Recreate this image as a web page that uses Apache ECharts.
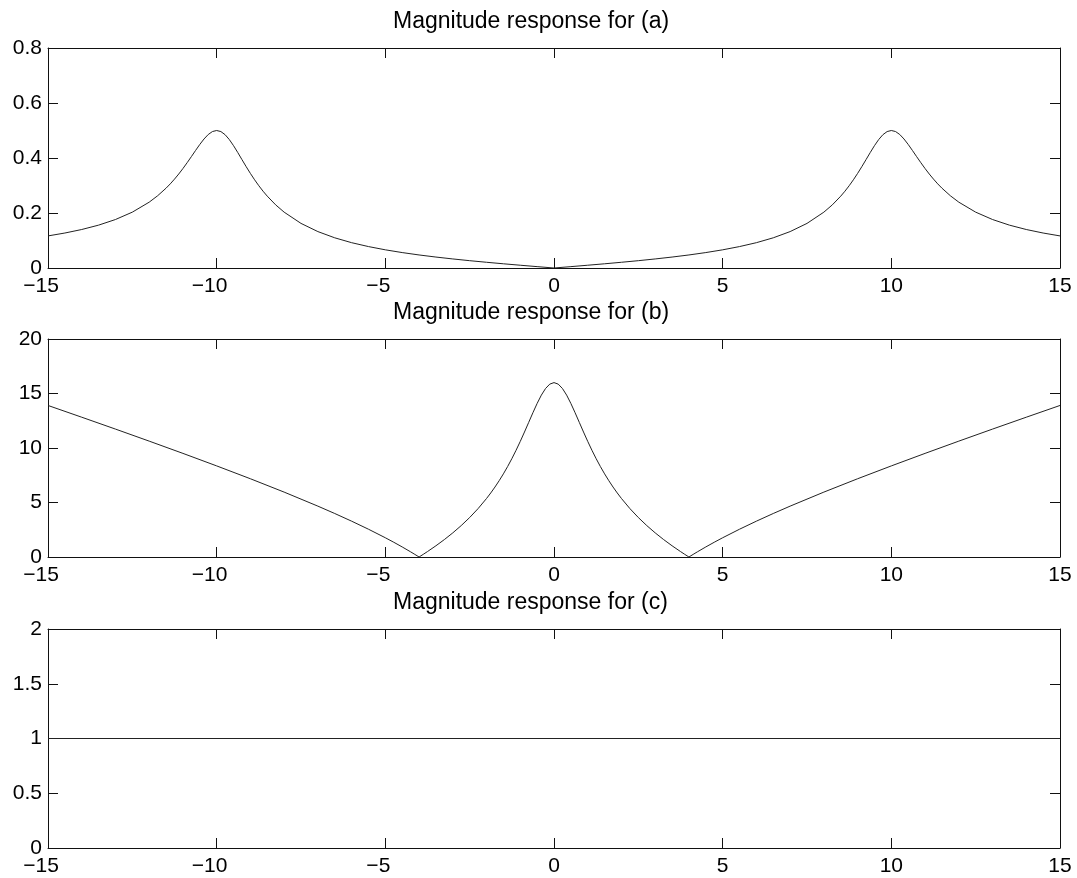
<!DOCTYPE html>
<html>
<head>
<meta charset="utf-8">
<script src="https://cdn.jsdelivr.net/npm/echarts@6/dist/echarts.min.js"></script>
<style>
html,body{margin:0;padding:0;background:#fff;}
#c{width:1077px;height:878px;}
</style>
</head>
<body>
<div id="c"></div>
<script>
// ---- data ----
const titles = ['Magnitude response for (a)', 'Magnitude response for (b)', 'Magnitude response for (c)'];
const xTicks = [-15, -10, -5, 0, 5, 10, 15];

const freqA = [-15,-14.5,-14,-13.5,-13,-12.5,-12,-11.75,-11.5,-11.375,-11.25,-11.125,-11,-10.875,-10.75,-10.625,-10.5,-10.375,-10.25,-10.125,-10,
  -9.875,-9.75,-9.625,-9.5,-9.375,-9.25,-9.125,-9,-8.875,-8.75,-8.625,-8.5,-8.25,-8,-7.5,-7,-6.5,-6,-5.5,-5,-4.5,-4,-3.5,-3,-2.5,-2,-1.5,-1,-0.5,
  0,0.5,1,1.5,2,2.5,3,3.5,4,4.5,5,5.5,6,6.5,7,7.5,8,8.25,8.5,8.625,8.75,8.875,9,9.125,9.25,9.375,9.5,9.625,9.75,9.875,
  10,10.125,10.25,10.375,10.5,10.625,10.75,10.875,11,11.125,11.25,11.375,11.5,11.75,12,12.5,13,13.5,14,14.5,15];
const magA = [0.1167,0.1272,0.1400,0.1559,0.1763,0.2031,0.2394,0.2627,0.2903,0.3060,0.3232,0.3417,0.3617,0.3829,0.4050,0.4275,0.4493,0.4692,0.4854,0.4962,0.5000,
  0.4961,0.4848,0.4670,0.4448,0.4200,0.3941,0.3685,0.3439,0.3207,0.2991,0.2793,0.2612,0.2295,0.2031,0.1622,0.1324,0.1098,0.0921,0.0779,0.0661,0.0561,0.0474,0.0398,0.0329,0.0266,0.0208,0.0153,0.0101,0.0050,
  0,0.0050,0.0101,0.0153,0.0208,0.0266,0.0329,0.0398,0.0474,0.0561,0.0661,0.0779,0.0921,0.1098,0.1324,0.1622,0.2031,0.2295,0.2612,0.2793,0.2991,0.3207,0.3439,0.3685,0.3941,0.4200,0.4448,0.4670,0.4848,0.4961,
  0.5000,0.4962,0.4854,0.4692,0.4493,0.4275,0.4050,0.3829,0.3617,0.3417,0.3232,0.3060,0.2903,0.2627,0.2394,0.2031,0.1763,0.1559,0.1400,0.1272,0.1167];

const freqB = [-15,-14,-13,-12,-11,-10,-9,-8,-7,-6.5,-6,-5.5,-5,-4.75,-4.5,-4.25,-4.125,-4,-3.875,-3.75,-3.5,-3.25,-3,-2.75,-2.5,-2.25,-2,
  -1.875,-1.75,-1.625,-1.5,-1.375,-1.25,-1.125,-1,-0.875,-0.75,-0.625,-0.5,-0.375,-0.25,-0.125,
  0,0.125,0.25,0.375,0.5,0.625,0.75,0.875,1,1.125,1.25,1.375,1.5,1.625,1.75,1.875,2,2.25,2.5,2.75,3,3.25,3.5,3.75,3.875,
  4,4.125,4.25,4.5,4.75,5,5.5,6,6.5,7,8,9,10,11,12,13,14,15];
const magB = [13.903,12.824,11.735,10.630,9.506,8.358,7.178,5.954,4.667,3.992,3.288,2.549,1.765,1.352,0.922,0.472,0.239,0,0.246,0.499,1.030,1.599,2.214,2.883,3.621,4.442,5.367,
  5.875,6.419,7.002,7.627,8.299,9.019,9.789,10.607,11.465,12.350,13.237,14.087,14.850,15.461,15.861,
  16,15.861,15.461,14.850,14.087,13.237,12.350,11.465,10.607,9.789,9.019,8.299,7.627,7.002,6.419,5.875,5.367,4.442,3.621,2.883,2.214,1.599,1.030,0.499,0.246,
  0,0.239,0.472,0.922,1.352,1.765,2.549,3.288,3.992,4.667,5.954,7.178,8.358,9.506,10.630,11.735,12.824,13.903];

const freqC = [-15, 15];
const magC = [1, 1];

const yMax = [0.8, 20, 2];
const yStep = [0.2, 5, 0.5];

// ---- layout ----
const gridTops = [48, 339, 629];
const gridH = [220, 218, 219];
const titleTops = [10, 301, 591];
const font = 'Liberation Sans, Arial, sans-serif';
const axisColor = '#111';

const pairs = (xs, ys) => xs.map((x, i) => [x, ys[i]]);
const seriesData = [pairs(freqA, magA), pairs(freqB, magB), pairs(freqC, magC)];

const grids = [], xAxes = [], yAxes = [], series = [], titleArr = [];
for (let k = 0; k < 3; k++) {
  grids.push({left: 48, right: 17, top: gridTops[k], height: gridH[k], containLabel: false});
  titleArr.push({text: titles[k], left: 393, top: titleTops[k], padding: 0,
    textStyle: {fontFamily: font, fontSize: 23, fontWeight: 'normal', color: '#000'}});
  const xCommon = {type: 'value', gridIndex: k, min: xTicks[0], max: xTicks[xTicks.length - 1], interval: 5,
    splitLine: {show: false},
    axisLine: {show: true, onZero: false, lineStyle: {color: axisColor, width: 1}},
    axisTick: {show: true, inside: true, length: 10, lineStyle: {color: axisColor, width: 1}}};
  xAxes.push(Object.assign({}, xCommon, {position: 'bottom',
    axisLabel: {show: true, margin: 8, fontFamily: font, fontSize: 21, color: '#000',
      showMinLabel: true, showMaxLabel: true,
      formatter: v => v < 0 ? '{n|\u2212' + Math.abs(v) + '}' : String(v),
      rich: {n: {fontFamily: font, fontSize: 21, color: '#000', padding: [0, 14, 0, 0]}}}}));
  xAxes.push(Object.assign({}, xCommon, {position: 'top', axisLabel: {show: false}}));
  const yCommon = {type: 'value', gridIndex: k, min: 0, max: yMax[k], interval: yStep[k],
    splitLine: {show: false},
    axisLine: {show: true, onZero: false, lineStyle: {color: axisColor, width: 1}},
    axisTick: {show: true, inside: true, length: 10, lineStyle: {color: axisColor, width: 1}}};
  yAxes.push(Object.assign({}, yCommon, {position: 'left',
    axisLabel: {show: true, margin: 6, fontFamily: font, fontSize: 21, color: '#000',
      showMinLabel: true, showMaxLabel: true}}));
  yAxes.push(Object.assign({}, yCommon, {position: 'right', axisLabel: {show: false}}));
  series.push({type: 'line', xAxisIndex: 2 * k, yAxisIndex: 2 * k, data: seriesData[k],
    showSymbol: false, symbol: 'none', smooth: false,
    lineStyle: {color: '#222', width: 1}});
}

const chart = echarts.init(document.getElementById('c'), null, {renderer: 'canvas'});
chart.setOption({
  animation: false,
  backgroundColor: '#fff',
  title: titleArr,
  grid: grids,
  xAxis: xAxes,
  yAxis: yAxes,
  series: series
});
</script>
</body>
</html>
